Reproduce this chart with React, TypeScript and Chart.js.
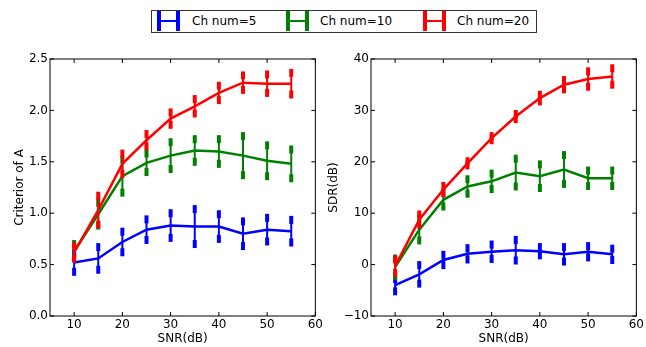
import React, { useEffect, useRef } from 'react';
import { Chart, registerables } from 'chart.js';

Chart.register(...registerables);

// ---------- data ----------
const snr = [10, 15, 20, 25, 30, 35, 40, 45, 50, 55];
const seriesNames = ['Ch num=5', 'Ch num=10', 'Ch num=20'];
const seriesColors = ['#0000ff', '#008000', '#ff0000'];

// Criterior of A
const critCh5 = [0.52, 0.56, 0.72, 0.84, 0.88, 0.87, 0.87, 0.80, 0.84, 0.825];
const critCh5Err = [0.09, 0.11, 0.10, 0.10, 0.12, 0.17, 0.12, 0.12, 0.115, 0.11];
const critCh10 = [0.63, 0.99, 1.36, 1.49, 1.56, 1.61, 1.60, 1.56, 1.51, 1.48];
const critCh10Err = [0.07, 0.11, 0.16, 0.09, 0.13, 0.11, 0.12, 0.19, 0.15, 0.14];
const critCh20 = [0.62, 1.03, 1.48, 1.71, 1.92, 2.04, 2.17, 2.27, 2.26, 2.26];
const critCh20Err = [0.06, 0.14, 0.10, 0.06, 0.06, 0.07, 0.07, 0.07, 0.09, 0.105];

// SDR(dB)
const sdrCh5 = [-4.0, -1.9, 0.9, 2.1, 2.5, 2.8, 2.6, 2.0, 2.5, 2.0];
const sdrCh5Err = [1.2, 1.8, 1.0, 1.1, 1.4, 2.0, 0.8, 1.4, 1.1, 1.1];
const sdrCh10 = [-0.5, 6.8, 12.6, 15.2, 16.2, 17.9, 17.2, 18.5, 16.8, 16.8];
const sdrCh10Err = [1.7, 2.1, 1.3, 1.4, 1.5, 2.7, 2.3, 2.8, 1.5, 1.5];
const sdrCh20 = [-0.3, 8.75, 14.6, 19.7, 24.6, 28.8, 32.4, 35.0, 36.1, 36.6];
const sdrCh20Err = [1.3, 1.0, 0.7, 0.4, 0.4, 0.5, 0.65, 0.9, 1.5, 1.6];

const xTickValues = [10, 20, 30, 40, 50, 60];
const critTickValues = [0, 0.5, 1.0, 1.5, 2.0, 2.5];
const sdrTickValues = [-10, 0, 10, 20, 30, 40];

const FONT = 'DejaVu Sans';

// ---------- plugins ----------
const errorBarPlugin = {
  id: 'errorBars',
  afterDatasetDraw(chart: any, args: any) {
    const ds = chart.data.datasets[args.index];
    const errs: number[] = ds.errors;
    if (!errs) return;
    const xs = chart.scales.x;
    const ys = chart.scales.y;
    const ctx = chart.ctx;
    ctx.save();
    ctx.strokeStyle = ds.borderColor;
    ctx.fillStyle = ds.borderColor;
    ds.data.forEach((p: any, i: number) => {
      const px = xs.getPixelForValue(p.x);
      const hi = ys.getPixelForValue(p.y + errs[i]);
      const lo = ys.getPixelForValue(p.y - errs[i]);
      ctx.lineWidth = 2;
      ctx.beginPath();
      ctx.moveTo(px, hi);
      ctx.lineTo(px, lo);
      ctx.stroke();
      ctx.fillRect(px - 2, hi - 4, 4, 8);
      ctx.fillRect(px - 2, lo - 4, 4, 8);
    });
    ctx.restore();
  },
};

const framePlugin = {
  id: 'frame',
  afterDraw(chart: any) {
    const { ctx, chartArea: a } = chart;
    const xs = chart.scales.x;
    const ys = chart.scales.y;
    ctx.save();
    ctx.strokeStyle = '#000';
    ctx.lineWidth = 1;
    ctx.strokeRect(a.left, a.top, a.right - a.left, a.bottom - a.top);
    ctx.beginPath();
    xs.ticks.forEach((t: any) => {
      const px = xs.getPixelForValue(t.value);
      ctx.moveTo(px, a.bottom);
      ctx.lineTo(px, a.bottom - 4);
      ctx.moveTo(px, a.top);
      ctx.lineTo(px, a.top + 4);
    });
    ys.ticks.forEach((t: any) => {
      const py = ys.getPixelForValue(t.value);
      ctx.moveTo(a.left, py);
      ctx.lineTo(a.left + 4, py);
      ctx.moveTo(a.right, py);
      ctx.lineTo(a.right - 4, py);
    });
    ctx.stroke();
    ctx.restore();
  },
};

function makeDatasets(vals: number[][], errs: number[][]) {
  return vals.map((v, k) => ({
    label: seriesNames[k],
    data: snr.map((s, i) => ({ x: s, y: v[i] })),
    errors: errs[k],
    borderColor: seriesColors[k],
    backgroundColor: seriesColors[k],
    borderWidth: 2.5,
    pointRadius: 0,
    tension: 0,
    clip: false,
    order: 3 - k,
  }));
}

function makeConfig(opts: {
  datasets: any[];
  yMin: number;
  yMax: number;
  yTicks: number[];
  yTitle: string;
  yFmt: (v: number) => string;
  yWidth: number;
  yTitlePad: number;
}): any {
  const font = { family: FONT, size: 12 };
  return {
    type: 'line',
    data: { datasets: opts.datasets },
    options: {
      responsive: false,
      animation: false,
      devicePixelRatio: 1,
      layout: { padding: { left: 0, top: 59, right: 8, bottom: 0 } },
      plugins: { legend: { display: false }, tooltip: { enabled: false } },
      scales: {
        x: {
          type: 'linear',
          min: 5,
          max: 60,
          afterBuildTicks: (s: any) => {
            s.ticks = xTickValues.map((v) => ({ value: v }));
          },
          afterFit: (s: any) => {
            s.height = 31;
          },
          grid: { display: false, drawTicks: false },
          border: { display: false },
          ticks: {
            padding: 2,
            color: '#000',
            font,
            maxRotation: 0,
            autoSkip: false,
            callback: (v: any) => String(v),
          },
          title: {
            display: true,
            text: 'SNR(dB)',
            color: '#000',
            font,
            padding: { top: 0, bottom: 1 },
          },
        },
        y: {
          type: 'linear',
          min: opts.yMin,
          max: opts.yMax,
          afterBuildTicks: (s: any) => {
            s.ticks = opts.yTicks.map((v) => ({ value: v }));
          },
          afterFit: (s: any) => {
            s.width = opts.yWidth;
          },
          grid: { display: false, drawTicks: false },
          border: { display: false },
          ticks: {
            padding: 2,
            color: '#000',
            font,
            autoSkip: false,
            callback: (v: any) => opts.yFmt(Number(v)),
          },
          title: {
            display: true,
            text: opts.yTitle,
            color: '#000',
            font,
            padding: { top: opts.yTitlePad, bottom: 0 },
          },
        },
      },
    },
    plugins: [errorBarPlugin, framePlugin],
  };
}

function LegendIcon({ color }: { color: string }) {
  return (
    <div style={{ position: 'relative', width: 23, height: 20 }}>
      <div style={{ position: 'absolute', left: 0, top: 0, width: 4, height: 20, background: color }} />
      <div style={{ position: 'absolute', left: 19, top: 0, width: 4, height: 20, background: color }} />
      <div style={{ position: 'absolute', left: 0, top: 9, width: 23, height: 2, background: color }} />
    </div>
  );
}

export default function App() {
  const leftRef = useRef<HTMLCanvasElement>(null);
  const rightRef = useRef<HTMLCanvasElement>(null);

  useEffect(() => {
    Chart.defaults.font.family = FONT;
    const c1 = new Chart(
      leftRef.current as HTMLCanvasElement,
      makeConfig({
        datasets: makeDatasets([critCh5, critCh10, critCh20], [critCh5Err, critCh10Err, critCh20Err]),
        yMin: 0,
        yMax: 2.5,
        yTicks: critTickValues,
        yTitle: 'Criterior of A',
        yFmt: (v) => v.toFixed(1),
        yWidth: 50,
        yTitlePad: 12.5,
      })
    );
    const c2 = new Chart(
      rightRef.current as HTMLCanvasElement,
      makeConfig({
        datasets: makeDatasets([sdrCh5, sdrCh10, sdrCh20], [sdrCh5Err, sdrCh10Err, sdrCh20Err]),
        yMin: -10,
        yMax: 40,
        yTicks: sdrTickValues,
        yTitle: 'SDR(dB)',
        yFmt: (v) => (v < 0 ? '\u2212' + Math.abs(v) : String(v)),
        yWidth: 46,
        yTitlePad: 2,
      })
    );
    return () => {
      c1.destroy();
      c2.destroy();
    };
  }, []);

  const legendItems = [
    { icon: 5, text: 40 },
    { icon: 134, text: 168 },
    { icon: 271, text: 305 },
  ];

  return (
    <div style={{ position: 'absolute', left: 0, top: 0, width: 646, height: 347, background: '#fff', overflow: 'hidden' }}>
      <canvas ref={leftRef} width={325} height={347} style={{ position: 'absolute', left: 0, top: 0 }} />
      <canvas ref={rightRef} width={321} height={347} style={{ position: 'absolute', left: 325, top: 0 }} />
      <div
        style={{
          position: 'absolute',
          left: 151,
          top: 10,
          width: 386,
          height: 23,
          boxSizing: 'border-box',
          border: '1px solid #333',
          background: '#fff',
          fontFamily: FONT,
          fontSize: 12,
          color: '#000',
        }}
      >
        {legendItems.map((it, k) => (
          <React.Fragment key={k}>
            <div style={{ position: 'absolute', left: it.icon, top: 0 }}>
              <LegendIcon color={seriesColors[k]} />
            </div>
            <div style={{ position: 'absolute', left: it.text, top: 0, height: 21, lineHeight: '21px', whiteSpace: 'nowrap' }}>
              {seriesNames[k]}
            </div>
          </React.Fragment>
        ))}
      </div>
    </div>
  );
}
